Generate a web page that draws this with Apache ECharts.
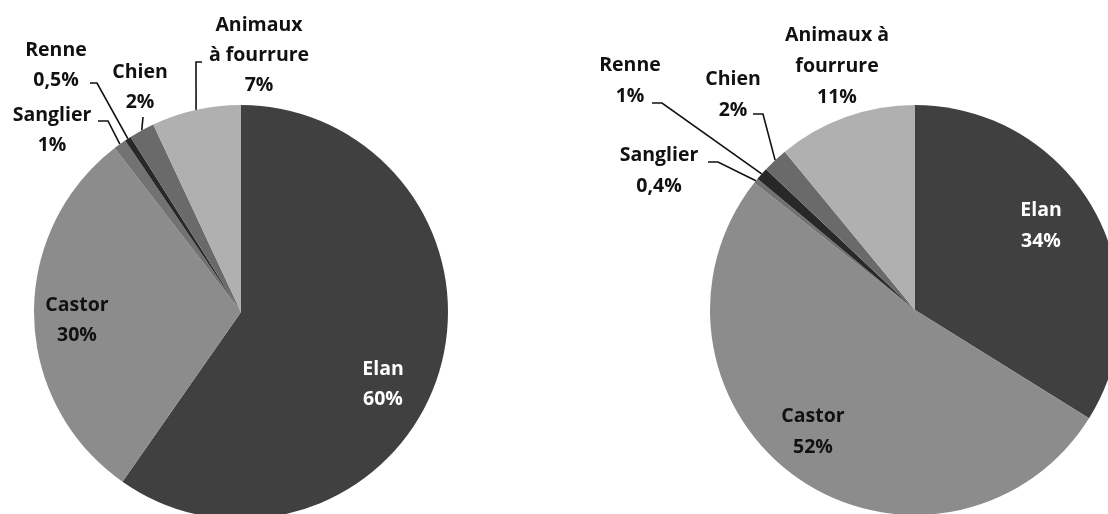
<!DOCTYPE html>
<html>
<head>
<meta charset="utf-8">
<script src="https://cdn.jsdelivr.net/npm/echarts@6/dist/echarts.min.js"></script>
<style>
html,body{margin:0;padding:0;background:#fff;}
#main{width:1108px;height:514px;}
</style>
</head>
<body>
<div id="main"></div>
<script>
var leftNames = ['Elan', 'Castor', 'Sanglier', 'Renne', 'Chien', 'Animaux\nà fourrure'];
var leftValues = [60, 30, 1, 0.5, 2, 7];
var rightNames = ['Elan', 'Castor', 'Sanglier', 'Renne', 'Chien', 'Animaux à\nfourrure'];
var rightValues = [34, 52, 0.4, 1, 2, 11];
var colors = ['#404040', '#8c8c8c', '#727272', '#282828', '#6a6a6a', '#b0b0b0'];

// label placement (layout only): label centre, then end and elbow of the leader line
var leftLabels = [
    {x: 383, y: 384},
    {x: 77, y: 320},
    {x: 52, y: 130, end: [98, 121], elbow: [108, 121]},
    {x: 56, y: 65, end: [90, 83], elbow: [97, 83]},
    {x: 140, y: 87, end: [143, 117], elbow: [143, 117]},
    {x: 259, y: 55, end: [202, 62], elbow: [196, 62]}
];
var rightLabels = [
    {x: 1041, y: 226},
    {x: 813, y: 432},
    {x: 659, y: 171, end: [708, 162], elbow: [718, 162]},
    {x: 630, y: 81, end: [652, 103], elbow: [662, 103]},
    {x: 733, y: 95, end: [753, 114], elbow: [763, 114]},
    {x: 837, y: 66}
];

var dom = document.getElementById('main');
var myChart = echarts.init(dom);

function buildData(names, values, table) {
    var data = [];
    for (var i = 0; i < names.length; i++) {
        data.push({
            name: names[i],
            value: values[i],
            itemStyle: {color: colors[i]},
            label: {color: i == 0 ? '#fff' : '#111'},
            labelLine: {show: !!table[i].end}
        });
    }
    return data;
}

function makeLayout(table) {
    return function (params) {
        var t = table[params.dataIndex];
        var res = {x: t.x, y: t.y, align: 'center', verticalAlign: 'middle'};
        var p = params.labelLinePoints;
        if (p && t.end) {
            res.labelLinePoints = [[p[0][0], p[0][1]], t.elbow.slice(), t.end.slice()];
        }
        return res;
    };
}

function labelText(params) {
    return params.name + '\n' + String(params.value).replace('.', ',') + '%';
}

function makeSeries(names, values, center, radius, table, lh) {
    return {
        type: 'pie',
        center: center,
        radius: radius,
        startAngle: 90,
        clockwise: true,
        avoidLabelOverlap: false,
        animation: false,
        silent: true,
        itemStyle: {borderWidth: 0},
        label: {
            show: true,
            position: 'outside',
            formatter: labelText,
            fontFamily: 'Open Sans',
            fontWeight: 'bold',
            fontSize: 19.5,
            lineHeight: lh,
            color: '#111'
        },
        labelLine: {
            show: true,
            length: 20,
            length2: 10,
            lineStyle: {color: '#111', width: 1.6}
        },
        labelLayout: makeLayout(table),
        data: buildData(names, values, table)
    };
}

option = null;
option = {
    backgroundColor: '#fff',
    series: [
        makeSeries(leftNames, leftValues, [241, 312], 207, leftLabels, 30),
        makeSeries(rightNames, rightValues, [915, 310], 205, rightLabels, 31)
    ]
};
if (option && typeof option === "object") {
    myChart.setOption(option, true);
}
</script>
</body>
</html>
